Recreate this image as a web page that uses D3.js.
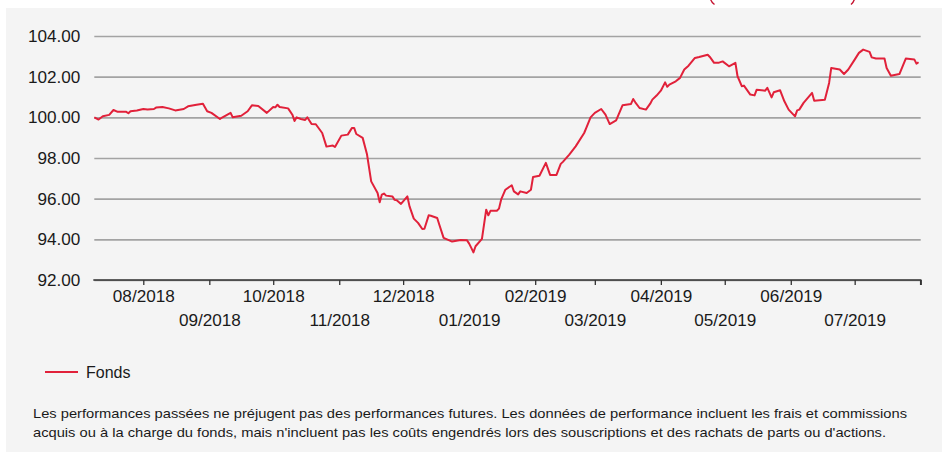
<!DOCTYPE html>
<html><head><meta charset="utf-8">
<script src="https://cdn.jsdelivr.net/npm/d3@7"></script>
<style>
html,body{margin:0;padding:0;background:#fff;}
svg{display:block;font-family:"Liberation Sans",Arial,sans-serif;}
</style></head>
<body><svg id="c" width="942" height="452"></svg>
<script>
const dates = ["2018-07-09","2018-07-11","2018-07-13","2018-07-16","2018-07-18","2018-07-20","2018-07-24","2018-07-25","2018-07-26","2018-07-29",
"2018-08-01","2018-08-03","2018-08-06","2018-08-07","2018-08-10","2018-08-13","2018-08-16","2018-08-20","2018-08-22","2018-08-26","2018-08-29","2018-08-31",
"2018-09-02","2018-09-06","2018-09-07","2018-09-11","2018-09-12","2018-09-16","2018-09-19","2018-09-21","2018-09-24","2018-09-28",
"2018-10-01","2018-10-02","2018-10-03","2018-10-04","2018-10-08","2018-10-10","2018-10-11","2018-10-12","2018-10-14","2018-10-16","2018-10-17","2018-10-19","2018-10-21","2018-10-24","2018-10-26","2018-10-29","2018-10-30",
"2018-11-02","2018-11-05","2018-11-07","2018-11-08","2018-11-09","2018-11-12","2018-11-14","2018-11-16","2018-11-19","2018-11-20","2018-11-21","2018-11-22","2018-11-23","2018-11-26","2018-11-27","2018-11-28","2018-11-30",
"2018-12-03","2018-12-04","2018-12-06","2018-12-08","2018-12-10","2018-12-11","2018-12-13","2018-12-14","2018-12-17","2018-12-18","2018-12-20","2018-12-24","2018-12-28","2018-12-31",
"2019-01-01","2019-01-02","2019-01-03","2019-01-04","2019-01-07","2019-01-09","2019-01-10","2019-01-11","2019-01-14","2019-01-15","2019-01-16","2019-01-18","2019-01-21","2019-01-22","2019-01-24","2019-01-25","2019-01-28","2019-01-30","2019-01-31",
"2019-02-03","2019-02-06","2019-02-08","2019-02-11","2019-02-13","2019-02-14","2019-02-17","2019-02-20","2019-02-24","2019-02-25","2019-02-27",
"2019-03-01","2019-03-04","2019-03-06","2019-03-08","2019-03-11","2019-03-14","2019-03-18","2019-03-19","2019-03-20","2019-03-22","2019-03-25","2019-03-27","2019-03-28","2019-03-30",
"2019-04-01","2019-04-03","2019-04-04","2019-04-05","2019-04-08","2019-04-10","2019-04-12","2019-04-14","2019-04-17","2019-04-19","2019-04-23","2019-04-24","2019-04-26","2019-04-28","2019-04-30",
"2019-05-03","2019-05-06","2019-05-07","2019-05-09","2019-05-10","2019-05-13","2019-05-15","2019-05-16","2019-05-20","2019-05-21","2019-05-23","2019-05-24","2019-05-27","2019-05-29","2019-05-31",
"2019-06-03","2019-06-04","2019-06-05","2019-06-07","2019-06-11","2019-06-12","2019-06-17","2019-06-19","2019-06-20","2019-06-24","2019-06-26","2019-06-28",
"2019-07-01","2019-07-03","2019-07-05","2019-07-08","2019-07-09","2019-07-11","2019-07-15","2019-07-16","2019-07-18","2019-07-22","2019-07-25","2019-07-29","2019-07-30","2019-07-31"];
const fonds = [100.0,99.89,100.05,100.12,100.36,100.27,100.27,100.2,100.3,100.34,
100.41,100.38,100.41,100.48,100.51,100.44,100.34,100.41,100.54,100.62,100.67,100.3,
100.22,99.92,99.99,100.22,100.0,100.08,100.3,100.59,100.56,100.22,
100.51,100.49,100.62,100.51,100.44,100.13,99.82,100.0,99.92,99.87,100.0,99.67,99.66,99.23,98.56,98.61,98.54,
99.10,99.15,99.48,99.48,99.18,98.99,98.20,96.85,96.28,95.82,96.20,96.25,96.15,96.11,95.94,95.92,95.74,
96.11,95.62,95.02,94.81,94.51,94.52,95.18,95.16,95.05,94.72,94.07,93.89,93.97,93.95,
93.79,93.58,93.36,93.66,94.02,95.46,95.18,95.40,95.41,95.51,95.95,96.44,96.66,96.36,96.21,96.36,96.28,96.44,97.07,
97.13,97.76,97.17,97.17,97.71,97.81,98.17,98.57,99.23,99.48,100.0,
100.22,100.41,100.13,99.67,99.85,100.59,100.66,100.90,100.74,100.46,100.38,100.67,100.87,101.07,
101.31,101.72,101.50,101.61,101.77,101.94,102.35,102.54,102.92,102.97,103.08,102.97,102.68,102.68,102.75,
102.51,102.68,102.02,101.53,101.56,101.12,101.08,101.36,101.31,101.45,100.98,101.23,101.33,100.79,100.38,
100.05,100.34,100.38,100.71,101.20,100.82,100.87,101.69,102.43,102.35,102.13,102.35,
102.84,103.17,103.33,103.22,102.95,102.89,102.89,102.43,102.05,102.13,102.89,102.85,102.64,102.71];
const yTicks = [92,94,96,98,100,102,104];
const monthTicks = ["2018-08-01","2018-09-01","2018-10-01","2018-11-01","2018-12-01","2019-01-01","2019-02-01","2019-03-01","2019-04-01","2019-05-01","2019-06-01","2019-07-01","2019-08-01"];
const monthLabels = ["08/2018","09/2018","10/2018","11/2018","12/2018","01/2019","02/2019","03/2019","04/2019","05/2019","06/2019","07/2019",""];
const legendLabel = "Fonds";
const footnote = ["Les performances passées ne préjugent pas des performances futures. Les données de performance incluent les frais et commissions",
"acquis ou à la charge du fonds, mais n'incluent pas les coûts engendrés lors des souscriptions et des rachats de parts ou d'actions."];

const parse = d3.utcParse("%Y-%m-%d");
const data = dates.map((d,i)=>({date:parse(d), v:fonds[i]}));
const svg = d3.select("#c");
const RED = "#e1213a";

svg.append("rect").attr("x",6).attr("y",8).attr("width",936).attr("height",444).attr("fill","#f4f4f4");
// partial red brackets at the very top (cut-off header element)
svg.append("path").attr("d","M710.5,-1 Q711.5,2.5 714.5,4.5").attr("fill","none").attr("stroke","#c4122f").attr("stroke-width",1.4);
svg.append("path").attr("d","M854.5,-1 Q853.5,2.5 851,4.5").attr("fill","none").attr("stroke","#c4122f").attr("stroke-width",1.4);

const x = d3.scaleUtc().domain([parse("2018-07-09"), parse("2019-08-01")]).range([94.3, 920.7]);
const y = d3.scaleLinear().domain([92,104]).range([280,36]);

function stretch(sel, f){ sel.each(function(){ const w=this.getComputedTextLength(); d3.select(this).attr("textLength", w*f).attr("lengthAdjust","spacingAndGlyphs"); }); }

// y gridlines + labels
const yAxis = d3.axisLeft(y).tickValues(yTicks).tickFormat(d=>d.toFixed(2)).tickSize(-(920.7-94.3)).tickPadding(14);
const gy = svg.append("g").attr("transform","translate(94.3,0)").call(yAxis);
gy.select(".domain").remove();
gy.selectAll(".tick line").attr("stroke","#a3a3a3").attr("stroke-width",1.6);
gy.selectAll(".tick text").attr("font-size",16).attr("fill","#1a1a1a").attr("dy","0.34em")
  .attr("font-family","'Liberation Sans',Arial,sans-serif");
stretch(gy.selectAll(".tick text"),1.07);

// x axis
const tickDates = monthTicks.map(parse);
const xAxis = d3.axisBottom(x).tickValues(tickDates).tickSize(5).tickFormat((d,i)=>monthLabels[i]);
const gx = svg.append("g").attr("transform","translate(0,280)").call(xAxis);
gx.select(".domain").attr("stroke","#333").attr("stroke-width",1.5).attr("d","M93.3,0H920.7V5");
gx.selectAll(".tick line").attr("stroke","#333").attr("stroke-width",1.3);
gx.selectAll(".tick text").attr("font-size",16).attr("fill","#1a1a1a").attr("font-family","'Liberation Sans',Arial,sans-serif")
  .attr("dy",null).attr("y",(d,i)=> i%2===0 ? 21.5 : 46).attr("dominant-baseline","auto");
stretch(gx.selectAll(".tick text").filter((d,i)=>monthLabels[i]!==""),1.07);

// line
svg.append("path").datum(data).attr("fill","none").attr("stroke",RED).attr("stroke-width",2)
  .attr("stroke-linejoin","round")
  .attr("d", d3.line().x(d=>x(d.date)).y(d=>y(d.v)));

// legend
svg.append("line").attr("x1",45).attr("x2",78).attr("y1",372).attr("y2",372).attr("stroke",RED).attr("stroke-width",2);
const lt = svg.append("text").attr("x",86).attr("y",378).attr("font-size",16).attr("fill","#1a1a1a").text(legendLabel);

// footnote
const ft = svg.selectAll("text.fn").data(footnote).join("text").attr("class","fn")
  .attr("x",33).attr("y",(d,i)=>418+i*19).attr("font-size",13.5).attr("fill","#1a1a1a").text(d=>d)
  .attr("textLength",(d,i)=> i===0 ? 874 : 853).attr("lengthAdjust","spacingAndGlyphs");
</script></body></html>
